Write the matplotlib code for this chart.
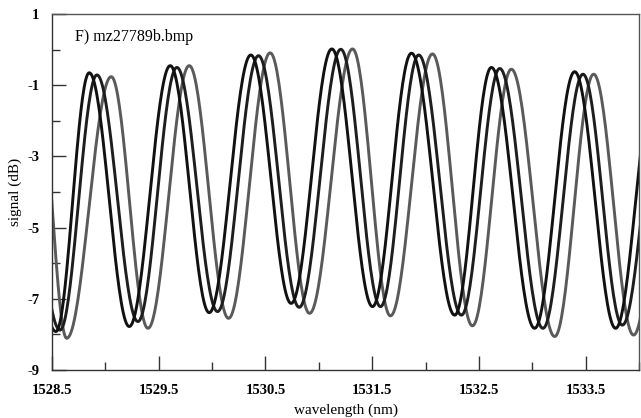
import numpy as np
import matplotlib
matplotlib.use("Agg")
import matplotlib.pyplot as plt
from matplotlib.ticker import MultipleLocator, FixedLocator

# Extrema (wavelength nm, signal dB)
a_peak_x = [1528.088, 1528.849, 1529.608, 1530.363, 1531.122, 1531.868, 1532.617, 1533.397, 1534.155]
a_peak_y = [-0.80, -0.65, -0.45, -0.15, 0.02, -0.10, -0.50, -0.62, -0.70]
a_trough_x = [1528.537, 1529.224, 1529.973, 1530.741, 1531.503, 1532.273, 1533.022, 1533.781]
a_trough_y = [-7.92, -7.78, -7.39, -7.13, -7.22, -7.46, -7.83, -7.83]

b_peak_x = [1528.163, 1528.921, 1529.670, 1530.435, 1531.206, 1531.936, 1532.695, 1533.475, 1534.230]
b_peak_y = [-0.85, -0.71, -0.50, -0.17, 0.01, -0.15, -0.53, -0.69, -0.75]
b_trough_x = [1528.575, 1529.305, 1530.051, 1530.816, 1531.578, 1532.336, 1533.100, 1533.844]
b_trough_y = [-7.88, -7.64, -7.36, -7.24, -7.22, -7.46, -7.83, -7.74]

c_peak_x = [1528.369, 1529.055, 1529.786, 1530.544, 1531.316, 1532.065, 1532.804, 1533.575, 1534.333]
c_peak_y = [-0.90, -0.76, -0.45, -0.09, 0.02, -0.12, -0.55, -0.69, -0.80]
c_trough_x = [1528.638, 1529.399, 1530.154, 1530.913, 1531.671, 1532.439, 1533.210, 1533.949]
c_trough_y = [-8.11, -7.83, -7.55, -7.41, -7.48, -7.76, -8.06, -8.02]

x_ticks = [1528.5, 1529.5, 1530.5, 1531.5, 1532.5, 1533.5]
y_ticks = [1, -1, -3, -5, -7, -9]
title_text = "F) mz27789b.bmp"


def fringe(px, py, tx, ty, n=40):
    pts = sorted(list(zip(px, py)) + list(zip(tx, ty)))
    xs, ys = [], []
    for (x0, y0), (x1, y1) in zip(pts[:-1], pts[1:]):
        t = np.linspace(0, 1, n, endpoint=False)
        xs.append(x0 + (x1 - x0) * t)
        ys.append(y0 + (y1 - y0) * (1 - np.cos(np.pi * t)) / 2)
    xs.append([pts[-1][0]])
    ys.append([pts[-1][1]])
    return np.concatenate(xs), np.concatenate(ys)


plt.rcParams['font.family'] = ['Liberation Serif', 'DejaVu Serif']

fig = plt.figure(figsize=(6.41, 4.18), dpi=100)
ax = fig.add_axes([52 / 641, 48 / 418, 587 / 641, 356 / 418])

series = [
    (a_peak_x, a_peak_y, a_trough_x, a_trough_y, '#111111'),
    (b_peak_x, b_peak_y, b_trough_x, b_trough_y, '#1e1e1e'),
    (c_peak_x, c_peak_y, c_trough_x, c_trough_y, '#5a5a5a'),
]
for px, py, tx, ty, col in series[::-1]:
    xs, ys = fringe(px, py, tx, ty)
    ax.plot(xs, ys, color=col, lw=2.1, solid_capstyle='round')

ax.set_xlim(1528.5, 1534.0)
ax.set_ylim(-9, 1)
ax.xaxis.set_major_locator(FixedLocator(x_ticks))
ax.xaxis.set_minor_locator(MultipleLocator(0.5))
ax.yaxis.set_major_locator(FixedLocator(y_ticks))
ax.yaxis.set_minor_locator(MultipleLocator(1))
ax.set_xticklabels([f"{v:.1f}" for v in x_ticks])
ax.set_yticklabels([str(v) for v in y_ticks])
ax.tick_params(which='major', direction='in', length=10, width=1, color='#333333',
               labelsize=10.5, pad=10)
ax.tick_params(which='minor', direction='in', length=5.5, width=1, color='#333333')
ax.tick_params(axis='y', which='major', pad=9)
for lab in ax.get_xticklabels() + ax.get_yticklabels():
    lab.set_fontweight('bold')

for s in ax.spines.values():
    s.set_linewidth(1.0)
    s.set_color('#333333')
ax.spines['top'].set_color('#555555')
ax.spines['right'].set_color('#555555')

ax.set_xlabel("wavelength (nm)", fontsize=11, labelpad=5)
ax.set_ylabel("signal (dB)", fontsize=11, labelpad=4)
ax.text(0.039, 0.935, title_text, transform=ax.transAxes, fontsize=11.5,
        ha='left', va='center')

fig.savefig("out.png", dpi=100)
